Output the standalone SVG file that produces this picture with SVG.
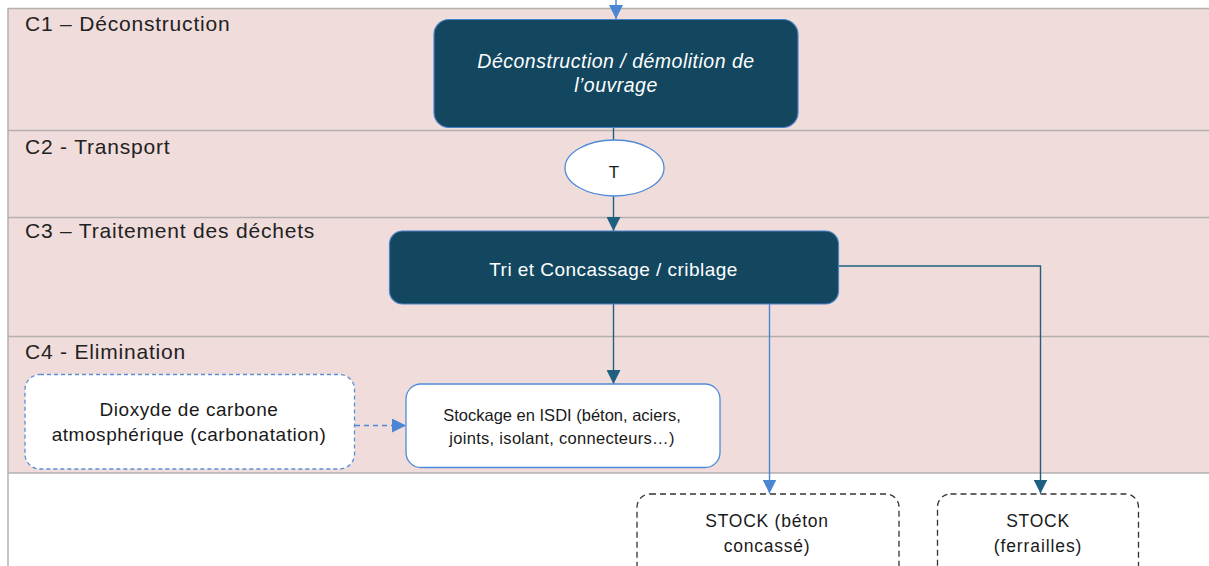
<svg xmlns="http://www.w3.org/2000/svg" width="1209" height="566" viewBox="0 0 1209 566">
<style>
.lane{fill:#f0dcdb}
.sep{stroke:#b4b0b0;stroke-width:1.5;fill:none}
.lbl{font-family:"Liberation Sans",Arial,sans-serif;font-size:21px;letter-spacing:0.8px;fill:#222}
.dark{fill:#12475f;stroke:#4a82c8;stroke-width:1.2}
.white{fill:#ffffff;stroke:#4f8bd8;stroke-width:1.3}
.dashb{fill:#ffffff;stroke:#5b8fd8;stroke-width:1.3;stroke-dasharray:4 3}
.dashk{fill:#ffffff;stroke:#333;stroke-width:1.3;stroke-dasharray:6 4}
.tw{font-family:"Liberation Sans",Arial,sans-serif;fill:#ffffff;text-anchor:middle}
.tk{font-family:"Liberation Sans",Arial,sans-serif;fill:#1a1a1a;text-anchor:middle}
.cd{stroke:#1f6080;stroke-width:1.4;fill:none}
.cb{stroke:#4a86d4;stroke-width:1.4;fill:none}
</style>
<defs>
<marker id="ad" markerWidth="14" markerHeight="14" refX="14" refY="7" orient="auto" markerUnits="userSpaceOnUse"><path d="M0,0 L14,7 L0,14 Z" fill="#1f6080"/></marker>
<marker id="ab" markerWidth="14" markerHeight="14" refX="14" refY="7" orient="auto" markerUnits="userSpaceOnUse"><path d="M0,0 L14,7 L0,14 Z" fill="#4a86d4"/></marker>
</defs>
<rect x="0" y="0" width="1209" height="566" fill="#ffffff"/>
<g id="lanes">
<rect class="lane" x="8" y="8.5" width="1201" height="464.5"/>
<line class="sep" x1="8" y1="8.5" x2="1209" y2="8.5"/>
<line class="sep" x1="8" y1="130.5" x2="1209" y2="130.5"/>
<line class="sep" x1="8" y1="217.5" x2="1209" y2="217.5"/>
<line class="sep" x1="8" y1="336.5" x2="1209" y2="336.5"/>
<line class="sep" x1="8" y1="473" x2="1209" y2="473"/>
<line class="sep" x1="8" y1="8" x2="8" y2="566"/>
<text class="lbl" x="25" y="31">C1 – Déconstruction</text>
<text class="lbl" x="25" y="154">C2 - Transport</text>
<text class="lbl" x="25" y="238">C3 – Traitement des déchets</text>
<text class="lbl" x="25" y="359">C4 - Elimination</text>
</g>
<g id="connectors">
<line class="cb" x1="616" y1="0" x2="616" y2="19" marker-end="url(#ab)"/>
<line class="cd" x1="613.5" y1="127" x2="613.5" y2="140"/>
<line class="cd" x1="613.5" y1="196" x2="613.5" y2="231" marker-end="url(#ad)"/>
<line class="cd" x1="613.5" y1="304" x2="613.5" y2="384" marker-end="url(#ad)"/>
<line class="cb" x1="769.5" y1="304" x2="769.5" y2="493.5" marker-end="url(#ab)"/>
<polyline class="cd" points="838.5,266 1040.5,266 1040.5,493.5" marker-end="url(#ad)"/>
<line class="cb" x1="355" y1="425.5" x2="406" y2="425.5" stroke-dasharray="5 4" marker-end="url(#ab)"/>
</g>
<g id="n-deconstruction">
<rect class="dark" x="434" y="19.5" width="364" height="108" rx="15"/>
<text class="tw" x="616" y="68" font-size="19.5" letter-spacing="0.5" font-style="italic">Déconstruction / démolition de</text>
<text class="tw" x="616" y="92" font-size="19.5" letter-spacing="0.5" font-style="italic">l’ouvrage</text>
</g>
<g id="n-transport">
<ellipse class="white" cx="614.5" cy="168" rx="49.5" ry="28"/>
<text class="tk" x="614" y="178" font-size="17">T</text>
</g>
<g id="n-tri">
<rect class="dark" x="389.5" y="231" width="449" height="73" rx="13"/>
<text class="tw" x="613.5" y="276" font-size="19" letter-spacing="0.45">Tri et Concassage / criblage</text>
</g>
<g id="n-dioxyde">
<rect class="dashb" x="25" y="374.5" width="329.5" height="94.5" rx="15"/>
<text class="tk" x="189" y="416" font-size="19" letter-spacing="0.55">Dioxyde de carbone</text>
<text class="tk" x="189" y="441" font-size="19" letter-spacing="0.55">atmosphérique (carbonatation)</text>
</g>
<g id="n-stockage">
<rect class="white" x="406" y="384" width="314" height="83.5" rx="15"/>
<text class="tk" x="562" y="420.5" font-size="16.5">Stockage en ISDI (béton, aciers,</text>
<text class="tk" x="562" y="443.5" font-size="16.5" letter-spacing="0.3">joints, isolant, connecteurs…)</text>
</g>
<g id="n-stock-beton">
<rect class="dashk" x="637" y="494" width="262" height="90" rx="13"/>
<text class="tk" x="767" y="527" font-size="17.5" letter-spacing="0.75">STOCK (béton</text>
<text class="tk" x="767" y="551.5" font-size="17.5" letter-spacing="0.75">concassé)</text>
</g>
<g id="n-stock-ferrailles">
<rect class="dashk" x="937.5" y="494" width="201" height="90" rx="13"/>
<text class="tk" x="1038" y="527" font-size="17.5" letter-spacing="0.75">STOCK</text>
<text class="tk" x="1038" y="551.5" font-size="17.5" letter-spacing="0.9">(ferrailles)</text>
</g>
</svg>
